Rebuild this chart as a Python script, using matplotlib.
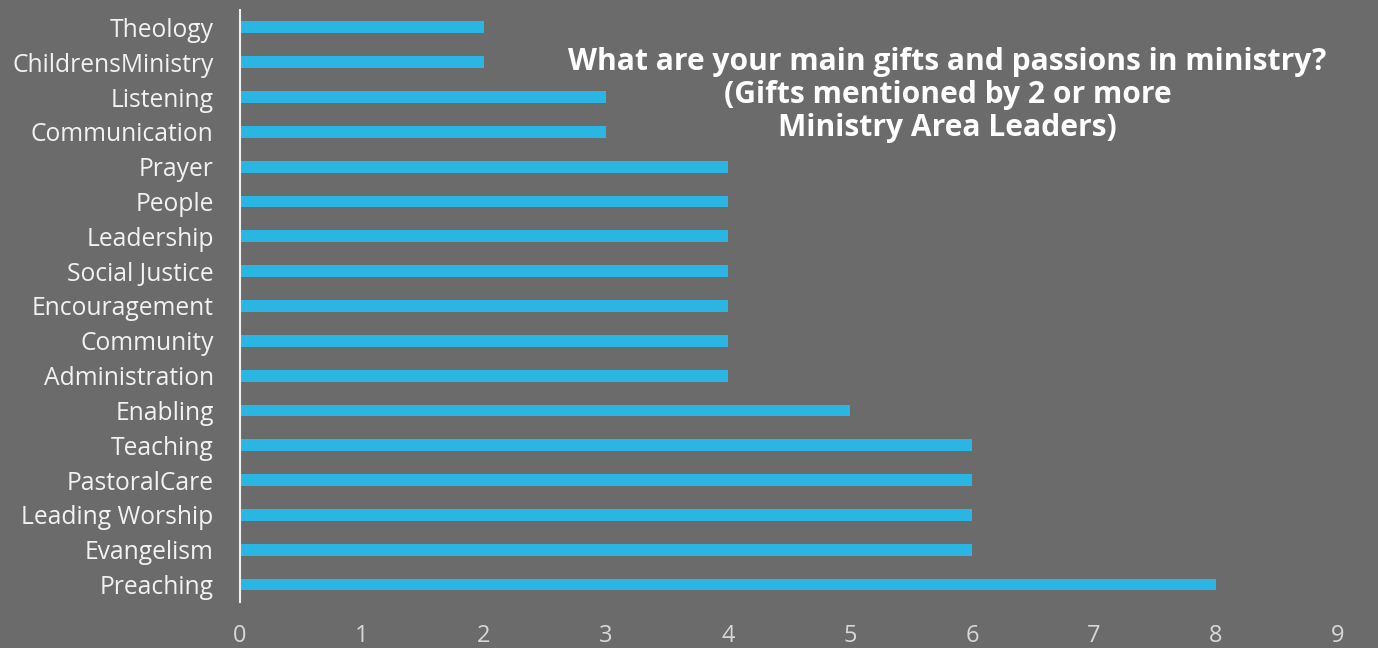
import matplotlib
matplotlib.use("Agg")
import matplotlib.pyplot as plt

categories = ["Preaching", "Evangelism", "Leading Worship", "PastoralCare", "Teaching",
              "Enabling", "Administration", "Community", "Encouragement", "Social Justice",
              "Leadership", "People", "Prayer", "Communication", "Listening",
              "ChildrensMinistry", "Theology"]
values = [8, 6, 6, 6, 6, 5, 4, 4, 4, 4, 4, 4, 4, 3, 3, 2, 2]
xticks = [0, 1, 2, 3, 4, 5, 6, 7, 8, 9]
title = "What are your main gifts and passions in ministry?\n(Gifts mentioned by 2 or more\nMinistry Area Leaders)"

bg = "#6b6b6b"
bar_color = "#2bb5e3"
txt = "#f2f2f2"

plt.rcParams['font.family'] = ['Open Sans', 'DejaVu Sans']

fig = plt.figure(figsize=(13.78, 6.48), dpi=100, facecolor=bg)
ax = fig.add_axes([0.1742, 0.071, 0.7968, 0.9136], facecolor=bg)

ax.barh(range(len(categories)), values, height=0.34, color=bar_color, zorder=2)
ax.set_ylim(-0.5, len(categories) - 0.5)
ax.set_xlim(0, 9)
ax.set_yticks(range(len(categories)))
ax.set_yticklabels(categories, fontsize=17.7, color=txt)
ax.set_xticks(xticks)
ax.set_xticklabels([str(t) for t in xticks], fontsize=17, color="#d8d8d8")
ax.tick_params(axis='both', length=0)
ax.tick_params(axis='y', pad=19)
ax.tick_params(axis='x', pad=16)
for s in ["top", "right", "bottom"]:
    ax.spines[s].set_visible(False)
ax.spines["left"].set_color("#f0f0f0")
ax.spines["left"].set_linewidth(1.5)

fig.text(0.6875, 0.927, title, ha="center", va="top", fontsize=21.6, fontweight="bold",
         color="white", linespacing=1.12)

fig.savefig("out.png", dpi=100, facecolor=bg)
